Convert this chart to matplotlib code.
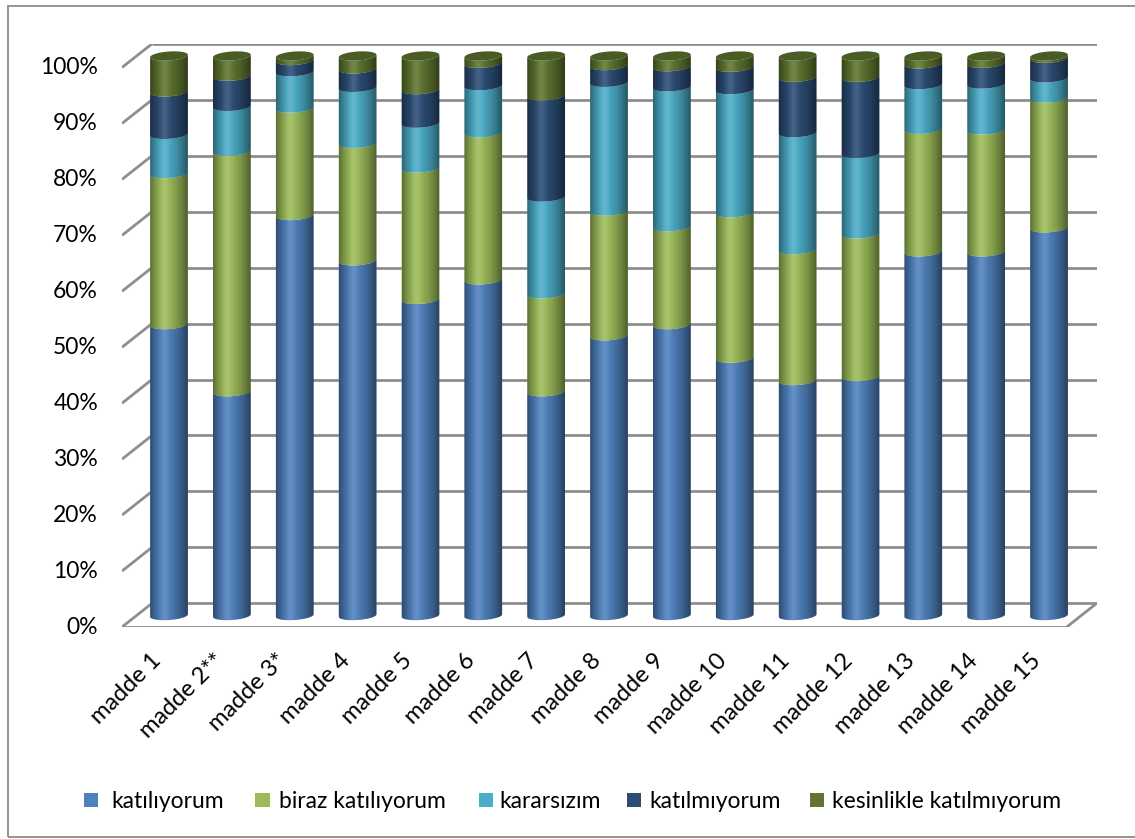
import numpy as np
import matplotlib
matplotlib.use("Agg")
import matplotlib.pyplot as plt
from matplotlib.patches import Polygon, Rectangle

plt.rcParams['font.family'] = ['Lato', 'DejaVu Sans']

# ---------------- data (percent) ----------------
categories = ["madde 1", "madde 2**", "madde 3*", "madde 4", "madde 5", "madde 6",
              "madde 7", "madde 8", "madde 9", "madde 10", "madde 11", "madde 12",
              "madde 13", "madde 14", "madde 15"]
series_names = ["katılıyorum", "biraz katılıyorum", "kararsızım", "katılmıyorum",
                "kesinlikle katılmıyorum"]
katiliyorum = [52.0, 40.0, 71.5, 63.4, 56.5, 60.0, 40.0, 50.0, 52.0, 46.0, 42.0, 42.7, 65.0, 65.0, 69.3]
biraz_katiliyorum = [27.0, 43.0, 19.2, 21.0, 23.5, 26.3, 17.5, 22.3, 17.5, 26.0, 23.4, 25.5, 21.9, 21.8, 23.2]
kararsizim = [7.0, 8.0, 6.5, 10.0, 8.0, 8.4, 17.3, 23.0, 25.0, 22.0, 20.9, 14.4, 8.0, 8.2, 3.6]
katilmiyorum = [7.6, 5.4, 2.0, 3.3, 6.0, 4.0, 18.1, 3.0, 3.6, 4.0, 9.9, 13.6, 3.7, 3.7, 3.5]
kesinlikle_katilmiyorum = [6.4, 3.6, 0.8, 2.3, 6.0, 1.3, 7.1, 1.7, 1.9, 2.0, 3.8, 3.8, 1.4, 1.3, 0.4]
series = [katiliyorum, biraz_katiliyorum, kararsizim, katilmiyorum, kesinlikle_katilmiyorum]
yticks = [0, 10, 20, 30, 40, 50, 60, 70, 80, 90, 100]
ytick_labels = ["0%", "10%", "20%", "30%", "40%", "50%", "60%", "70%", "80%", "90%", "100%"]

colors = ['#4F81BD', '#9BBB59', '#4BACC6', '#2C4D75', '#5F7530']
top_colors = ['#3F6797', '#7C9647', '#3C8A9E', '#23405F', '#4A5C25']

W, H = 1135, 839
fig = plt.figure(figsize=(W / 100, H / 100), dpi=100)

# chart border
fig.add_artist(Rectangle((8 / W, 1 - 837 / H), (W + 10 - 8) / W, (837 - 6) / H,
                         transform=fig.transFigure, fill=False, edgecolor='#8C8C8C', lw=1.3))

# axes geometry (pixel based frame)
px_left, px_right, px_top, px_bottom = 122, 1097, 43.5, 627
ax = fig.add_axes([px_left / W, 1 - px_bottom / H, (px_right - px_left) / W, (px_bottom - px_top) / H])
spacing = 62.86
x0 = -(169 - px_left) / spacing
x1 = (px_right - 169) / spacing
ppy = 5.595
y0 = -(px_bottom - 615.5) / ppy
y1 = (615.5 - px_top) / ppy
ax.set_xlim(x0, x1)
ax.set_ylim(y0, y1)
ax.axis('off')

depth_dx = 30 / spacing           # back wall offset in x (data units)
front_dy = -(627 - 615.5) / ppy   # front level offset
back_dy = (615.5 - 603.3) / ppy   # back level offset
floor_right_front = (1066.7 - 169) / spacing

grid_kw = dict(color='#8E8E8E', lw=2.0, solid_capstyle='butt', zorder=1)
for v in yticks:
    ax.plot([x0, x0 + depth_dx], [v + front_dy, v + back_dy], **grid_kw)
    ax.plot([x0 + depth_dx, x1], [v + back_dy, v + back_dy], **grid_kw)
# floor
ax.plot([x0, floor_right_front], [front_dy, front_dy], **grid_kw)
ax.plot([floor_right_front, floor_right_front + depth_dx], [front_dy, back_dy], **grid_kw)

# tick labels
for v, lab in zip(yticks, ytick_labels):
    ax.text(x0 - 24 / spacing, v + front_dy, lab, ha='right', va='center', fontsize=16.5, color='#000000')

for i, lab in enumerate(categories):
    ax.text(i - 0.30, front_dy - 23 / ppy, lab, ha='right', va='top', rotation=45,
            rotation_mode='anchor', fontsize=17, color='#000000')

# cylinders
a = 0.30          # half width (category units)
b = 4.5 / ppy     # ellipse half height in data units
shear = 0.75
t_front = np.linspace(np.pi, 2 * np.pi, 60)


def arc(cx, v):
    xs = cx + a * np.cos(t_front)
    ys = v + b * np.sin(t_front) + shear * (xs - cx)
    return np.column_stack([xs, ys])


def full_ellipse(cx, v):
    t = np.linspace(0, 2 * np.pi, 120)
    xs = cx + a * np.cos(t)
    ys = v + b * np.sin(t) + shear * (xs - cx)
    return np.column_stack([xs, ys])


# shading gradient
u = np.linspace(0, 1, 200)
alpha = np.where(u < 0.38, 0.42 * ((0.38 - u) / 0.38) ** 1.6, 0.5 * ((u - 0.38) / 0.62) ** 1.6)
grad = np.zeros((2, 200, 4))
grad[..., 3] = alpha
hl = np.zeros((2, 200, 4))
hl[..., :3] = 1.0
hl[..., 3] = 0.12 * np.exp(-((u - 0.38) / 0.12) ** 2)

for i in range(len(categories)):
    cx = i
    cum = 0.0
    for s, vals in enumerate(series):
        lo, hi = cum, cum + vals[i]
        cum = hi
        pts = np.vstack([arc(cx, lo), arc(cx, hi)[::-1]])
        ax.add_patch(Polygon(pts, closed=True, facecolor=colors[s], edgecolor='none', zorder=3))
    side = np.vstack([arc(cx, 0), arc(cx, cum)[::-1]])
    clip = Polygon(side, closed=True, transform=ax.transData, facecolor='none', edgecolor='none')
    ax.add_patch(clip)
    ext = [cx - a, cx + a, -b * 2 - shear * a, cum + b * 2 + shear * a]
    im = ax.imshow(grad, extent=ext, aspect='auto', zorder=4, interpolation='bilinear')
    im.set_clip_path(clip)
    im2 = ax.imshow(hl, extent=ext, aspect='auto', zorder=4, interpolation='bilinear')
    im2.set_clip_path(clip)
    # top face
    top_series = max(k for k in range(len(series)) if series[k][i] > 0)
    ax.add_patch(Polygon(full_ellipse(cx, cum), closed=True, facecolor=top_colors[top_series],
                         edgecolor='none', zorder=5))

ax.set_xlim(x0, x1)
ax.set_ylim(y0, y1)

# legend (entries placed at the reference positions)
legend_marker_x = [83.5, 255, 478.5, 627, 810]
legend_text_x = [111, 279, 499, 649, 832]
legend_y = 800
msz = 14.5
for name, c, mx, tx in zip(series_names, colors, legend_marker_x, legend_text_x):
    fig.add_artist(Rectangle((mx / W, 1 - (legend_y + msz / 2) / H), msz / W, msz / H,
                             transform=fig.transFigure, facecolor=c, edgecolor='none'))
    fig.text(tx / W, 1 - legend_y / H, name, ha='left', va='center_baseline',
             fontsize=16.5, color='#000000')

fig.savefig("out.png", dpi=100)
